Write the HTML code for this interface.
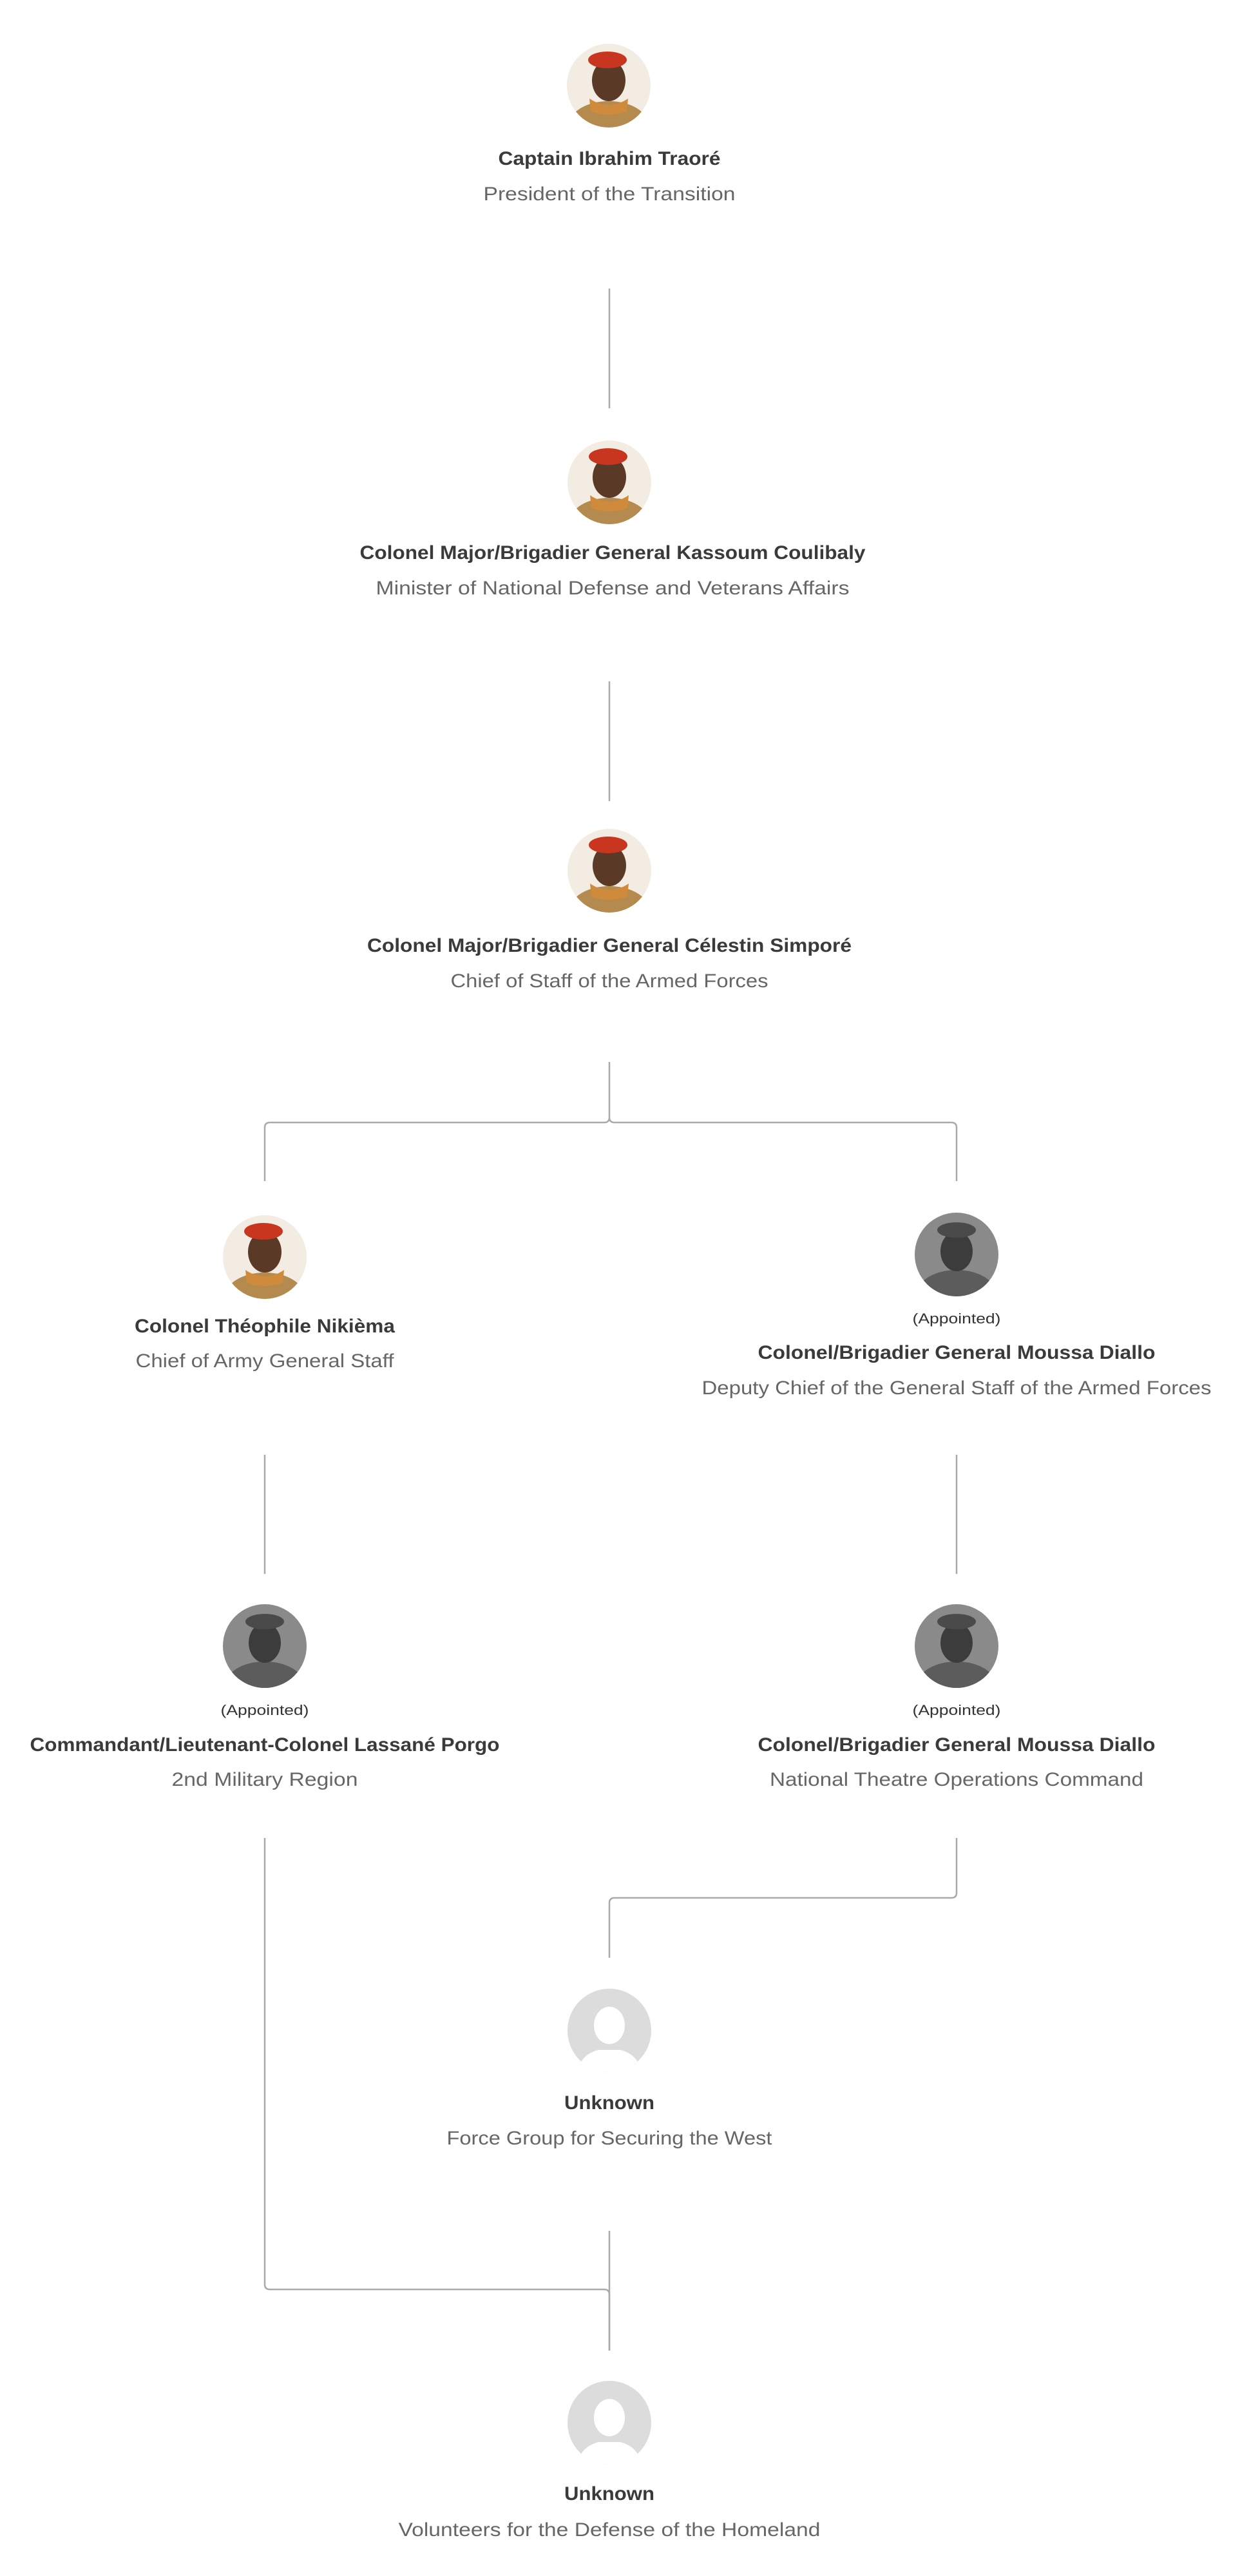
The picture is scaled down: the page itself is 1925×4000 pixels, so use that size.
<!DOCTYPE html>
<html><head><meta charset="utf-8"><style>
html,body{margin:0;padding:0;background:#fff;}
svg{display:block;}
.n{font-family:"Liberation Sans Narrow","Liberation Sans",sans-serif;font-weight:bold;font-size:30px;fill:#3a3a3a;}
.s{font-family:"Liberation Sans Narrow","Liberation Sans",sans-serif;font-size:30px;fill:#666;}
.a{font-family:"Liberation Sans Narrow","Liberation Sans",sans-serif;font-size:22px;fill:#333;}
.l{fill:none;stroke:#aaa;stroke-width:2.5;}
</style></head><body>
<svg width="1925" height="4000" viewBox="0 0 1925 4000" xmlns="http://www.w3.org/2000/svg">
<defs>
<clipPath id="c"><circle cx="0" cy="0" r="65"/></clipPath>
<g id="pc">
 <g clip-path="url(#c)">
  <rect x="-70" y="-70" width="140" height="140" fill="#f3ece2"/>
  <ellipse cx="0" cy="62" rx="62" ry="38" fill="#b58a4e"/>
  <path d="M-30 20 Q0 40 30 20 L28 40 Q0 50 -28 40Z" fill="#d08a3c"/>
  <ellipse cx="0" cy="-8" rx="26" ry="32" fill="#5a3a26"/>
  <ellipse cx="-2" cy="-40" rx="30" ry="13" fill="#c8361f"/>
 </g>
</g>
<g id="pg">
 <g clip-path="url(#c)">
  <rect x="-70" y="-70" width="140" height="140" fill="#8a8a8a"/>
  <ellipse cx="0" cy="62" rx="62" ry="38" fill="#5c5c5c"/>
  <ellipse cx="0" cy="-5" rx="25" ry="31" fill="#3c3c3c"/>
  <ellipse cx="0" cy="-38" rx="30" ry="12" fill="#4a4a4a"/>
 </g>
</g>
<g id="pu">
 <g clip-path="url(#c)">
  <rect x="-70" y="-70" width="140" height="140" fill="#dcdcdc"/>
  <ellipse cx="0" cy="-8" rx="24" ry="29" fill="#fff"/>
  <ellipse cx="0" cy="58" rx="46" ry="30" fill="#fff"/>
  <rect x="-70" y="26" width="140" height="4" fill="#dcdcdc"/>
 </g>
</g>
</defs>

<path class="l" d="M946 448V634"/>
<path class="l" d="M946 1058V1244"/>
<path class="l" d="M946 1649V1735Q946 1743 938 1743H419Q411 1743 411 1751V1834"/>
<path class="l" d="M946 1735Q946 1743 954 1743H1477Q1485 1743 1485 1751V1834"/>
<path class="l" d="M411 2259V2444"/>
<path class="l" d="M1485 2259V2444"/>
<path class="l" d="M1485 2854V2939Q1485 2947 1477 2947H954Q946 2947 946 2955V3040"/>
<path class="l" d="M411 2854V3547Q411 3555 419 3555H938Q946 3555 946 3563V3650"/>
<path class="l" d="M946 3464V3650"/>

<use href="#pc" x="945" y="133"/>
<text class="n" x="946" y="256" text-anchor="middle" textLength="345" lengthAdjust="spacingAndGlyphs">Captain Ibrahim Traoré</text>
<text class="s" x="946" y="311" text-anchor="middle" textLength="391" lengthAdjust="spacingAndGlyphs">President of the Transition</text>

<use href="#pc" x="946" y="749"/>
<text class="n" x="951" y="868" text-anchor="middle" textLength="785" lengthAdjust="spacingAndGlyphs">Colonel Major/Brigadier General Kassoum Coulibaly</text>
<text class="s" x="951" y="923" text-anchor="middle" textLength="735" lengthAdjust="spacingAndGlyphs">Minister of National Defense and Veterans Affairs</text>

<use href="#pc" x="946" y="1352"/>
<text class="n" x="946" y="1478" text-anchor="middle" textLength="752" lengthAdjust="spacingAndGlyphs">Colonel Major/Brigadier General Célestin Simporé</text>
<text class="s" x="946" y="1533" text-anchor="middle" textLength="493" lengthAdjust="spacingAndGlyphs">Chief of Staff of the Armed Forces</text>

<use href="#pc" x="411" y="1952"/>
<text class="n" x="411" y="2069" text-anchor="middle" textLength="404" lengthAdjust="spacingAndGlyphs">Colonel Théophile Nikièma</text>
<text class="s" x="411" y="2123" text-anchor="middle" textLength="401" lengthAdjust="spacingAndGlyphs">Chief of Army General Staff</text>

<use href="#pg" x="1485" y="1948"/>
<text class="a" x="1485" y="2055" text-anchor="middle" textLength="137" lengthAdjust="spacingAndGlyphs">(Appointed)</text>
<text class="n" x="1485" y="2110" text-anchor="middle" textLength="617" lengthAdjust="spacingAndGlyphs">Colonel/Brigadier General Moussa Diallo</text>
<text class="s" x="1485" y="2165" text-anchor="middle" textLength="791" lengthAdjust="spacingAndGlyphs">Deputy Chief of the General Staff of the Armed Forces</text>

<use href="#pg" x="411" y="2556"/>
<text class="a" x="411" y="2663" text-anchor="middle" textLength="137" lengthAdjust="spacingAndGlyphs">(Appointed)</text>
<text class="n" x="411" y="2719" text-anchor="middle" textLength="729" lengthAdjust="spacingAndGlyphs">Commandant/Lieutenant-Colonel Lassané Porgo</text>
<text class="s" x="411" y="2773" text-anchor="middle" textLength="289" lengthAdjust="spacingAndGlyphs">2nd Military Region</text>

<use href="#pg" x="1485" y="2556"/>
<text class="a" x="1485" y="2663" text-anchor="middle" textLength="137" lengthAdjust="spacingAndGlyphs">(Appointed)</text>
<text class="n" x="1485" y="2719" text-anchor="middle" textLength="617" lengthAdjust="spacingAndGlyphs">Colonel/Brigadier General Moussa Diallo</text>
<text class="s" x="1485" y="2773" text-anchor="middle" textLength="580" lengthAdjust="spacingAndGlyphs">National Theatre Operations Command</text>

<use href="#pu" x="946" y="3153"/>
<text class="n" x="946" y="3275" text-anchor="middle" textLength="140" lengthAdjust="spacingAndGlyphs">Unknown</text>
<text class="s" x="946" y="3330" text-anchor="middle" textLength="505" lengthAdjust="spacingAndGlyphs">Force Group for Securing the West</text>

<use href="#pu" x="946" y="3762"/>
<text class="n" x="946" y="3882" text-anchor="middle" textLength="140" lengthAdjust="spacingAndGlyphs">Unknown</text>
<text class="s" x="946" y="3938" text-anchor="middle" textLength="655" lengthAdjust="spacingAndGlyphs">Volunteers for the Defense of the Homeland</text>
</svg>
</body></html>
